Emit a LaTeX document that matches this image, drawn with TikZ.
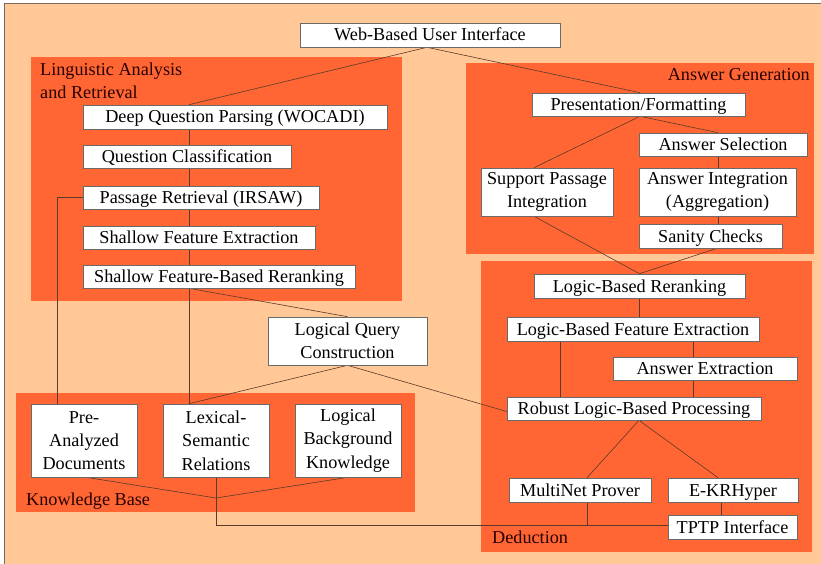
\documentclass[tikz,border=0pt]{standalone}
\usepackage{fontspec}
\setmainfont{Liberation Serif}
\usetikzlibrary{calc}
\pgfdeclarelayer{back}
\pgfdeclarelayer{panel}
\pgfdeclarelayer{wires}
\pgfsetlayers{back,panel,wires,main}
\definecolor{light}{HTML}{FFC896}
\definecolor{dark}{HTML}{FF6633}
\definecolor{frame}{HTML}{7A6A60}
\definecolor{wire}{HTML}{5A3A2A}
\definecolor{edge}{HTML}{6A6A6A}
\tikzset{
  box/.style={draw=edge, line width=0.6pt, fill=white, inner sep=0pt, align=center,
    font=\fontsize{18.2}{23.3}\selectfont},
  onebox/.style={box, text height=13pt, text depth=1pt},
  grp/.style={fill=dark},
  wline/.style={draw=wire, line width=0.6pt},
  glabel/.style={inner sep=0pt, font=\fontsize{18.2}{23}\selectfont, text=black!85!red}
}
\begin{document}
\begin{tikzpicture}[x=1pt,y=-1pt]
\useasboundingbox (0,0) rectangle (821,564);
\begin{pgfonlayer}{back}
\fill[white] (0,0) rectangle (821,564);
\fill[light] (4,3) rectangle (830,570);
\draw[frame, line width=0.8pt] (4,570) -- (4,3) -- (830,3);
\end{pgfonlayer}

\begin{pgfonlayer}{panel}
\fill[grp] (31,57) rectangle (402,301);
\fill[grp] (466,63) rectangle (814,254);
\fill[grp] (16,393) rectangle (415,512);
\fill[grp] (481,261) rectangle (812,552);
\end{pgfonlayer}

\node[glabel, anchor=base west] (labA) at (40,76) {Linguistic Analysis};
\node[glabel, anchor=base west] (labB) at (40,99) {and Retrieval};
\node[glabel, anchor=base east] (labC) at (810,81) {Answer Generation};
\node[glabel, anchor=base west] (labD) at (26,505) {Knowledge Base};
\node[glabel, anchor=base west] (labE) at (492,543) {Deduction};

\node[onebox, minimum width=260, minimum height=24] (ui) at (430,35) {Web-Based User Interface};
\node[onebox, minimum width=304, minimum height=24] (dqp) at (235,117) {Deep Question Parsing (WOCADI)};
\node[onebox, minimum width=208, minimum height=23] (qc) at (187,156.5) {Question Classification};
\node[onebox, minimum width=236, minimum height=23] (pr) at (201,197.5) {Passage Retrieval (IRSAW)};
\node[onebox, minimum width=232, minimum height=23] (sfe) at (199,237.5) {Shallow Feature Extraction};
\node[onebox, minimum width=272, minimum height=23] (sfbr) at (219,276.5) {Shallow Feature-Based Reranking};
\node[box, minimum width=159, minimum height=48] (lqc) at (347.5,341) {Logical Query\\Construction};
\node[box, minimum width=106, minimum height=73] (pad) at (84,440.5) {Pre-\\Analyzed\\Documents};
\node[box, minimum width=106, minimum height=73] (lsr) at (216,440.5) {Lexical-\\Semantic\\Relations};
\node[box, minimum width=106, minimum height=73] (lbk) at (348,440.5) {Logical\\Background\\Knowledge};
\node[onebox, minimum width=213, minimum height=23] (pf) at (638.5,104.5) {Presentation/Formatting};
\node[onebox, minimum width=168, minimum height=23] (as) at (723,144.5) {Answer Selection};
\node[box, minimum width=132, minimum height=48] (spi) at (547,192) {Support Passage\\Integration};
\node[box, minimum width=157, minimum height=48] (ai) at (717.5,192) {Answer Integration\\(Aggregation)};
\node[onebox, minimum width=143, minimum height=24] (sc) at (710.5,236) {Sanity Checks};
\node[onebox, minimum width=211, minimum height=24] (lbr) at (639.5,286) {Logic-Based Reranking};
\node[onebox, minimum width=252, minimum height=24] (lbfe) at (633,329) {Logic-Based Feature Extraction};
\node[onebox, minimum width=184, minimum height=23] (ae) at (705,368.5) {Answer Extraction};
\node[onebox, minimum width=254, minimum height=23] (rlbp) at (634,408.5) {Robust Logic-Based Processing};
\node[onebox, minimum width=142, minimum height=24] (mnp) at (580,490) {MultiNet Prover};
\node[onebox, minimum width=130, minimum height=24] (ekr) at (733,490) {E-KRHyper};
\node[onebox, minimum width=129, minimum height=24] (tptp) at (732.5,527) {TPTP Interface};

\coordinate (sp) at (189,0);
\coordinate (pl) at (57,0);
\coordinate (ac) at (718,0);
\coordinate (dl) at (560,0);
\coordinate (dr) at (693,0);
\coordinate (ek) at (721,0);
\coordinate (kbj) at (216,498);
\coordinate (bus) at (0,525);

\begin{pgfonlayer}{wires}
\draw[wline] ([xshift=-3]ui.south) -- (dqp.north -| sp);
\draw[wline] ([xshift=-3]ui.south) -- ([xshift=1.5]pf.north);
\draw[wline] (dqp.south -| sp) -- (lsr.north -| sp);
\draw[wline] (sfbr.south -| sp) -- (lqc.north);
\draw[wline] (pr.west) -- (pr.west -| pl) -- (pad.north -| pl);
\draw[wline] (lqc.south) -- (lsr.north -| sp);
\draw[wline] (lqc.south) -- ([yshift=-3]rlbp.west);
\draw[wline] ([xshift=2]pad.south) -- (kbj);
\draw[wline] (lbk.south) -- (kbj);
\draw[wline] (lsr.south) -- (lsr.south |- bus) -- (tptp.west |- bus);
\draw[wline] ([xshift=7]mnp.south) -- ([xshift=7]mnp.south |- bus);
\draw[wline] ([xshift=1.5]pf.south) -- ([xshift=-13]spi.north);
\draw[wline] ([xshift=1.5]pf.south) -- (as.north -| ac);
\draw[wline] (as.south -| ac) -- (ai.north -| ac);
\draw[wline] (ai.south -| ac) -- (sc.north -| ac);
\draw[wline] ([xshift=-13]spi.south) -- (lbr.north);
\draw[wline] ([xshift=6.5]sc.south) -- (lbr.north);
\draw[wline] (lbr.south) -- (lbr.south |- lbfe.north);
\draw[wline] (lbfe.south -| dl) -- (rlbp.north -| dl);
\draw[wline] (lbfe.south -| dr) -- (ae.north -| dr);
\draw[wline] (ae.south -| dr) -- (rlbp.north -| dr);
\draw[wline] ([xshift=5]rlbp.south) -- ([xshift=7]mnp.north);
\draw[wline] ([xshift=5]rlbp.south) -- ([xshift=-15]ekr.north);
\draw[wline] (ekr.south -| ek) -- (tptp.north -| ek);
\end{pgfonlayer}
\end{tikzpicture}
\end{document}
